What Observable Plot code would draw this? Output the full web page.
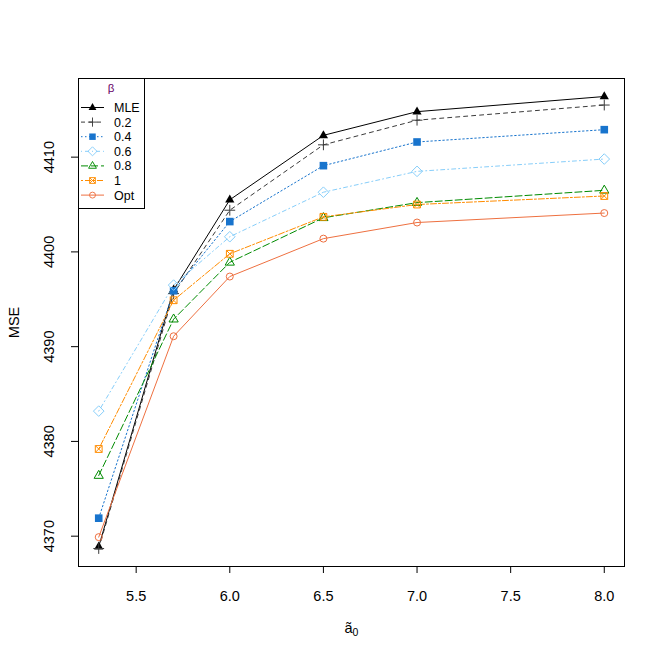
<!DOCTYPE html>
<html>
<head>
<meta charset="utf-8">
<script src="https://cdn.jsdelivr.net/npm/d3@7"></script>
<script src="https://cdn.jsdelivr.net/npm/@observablehq/plot@0.6"></script>
<style>
  html, body { margin: 0; padding: 0; background: #fff; }
  #wrap { position: relative; width: 664px; height: 664px; }
  #wrap svg { position: absolute; left: 0; top: 0; }
</style>
</head>
<body>
<div id="wrap"></div>
<script>
// ---- data ----
const a0 = [5.3, 5.7, 6.0, 6.5, 7.0, 8.0];
const mseMLE = [4368.9, 4396.0, 4405.5, 4412.3, 4414.8, 4416.4];
const mse02  = [4368.7, 4395.6, 4404.4, 4411.3, 4413.9, 4415.5];
const mse04  = [4371.9, 4395.9, 4403.2, 4409.1, 4411.6, 4412.9];
const mse06  = [4383.2, 4396.5, 4401.6, 4406.3, 4408.5, 4409.8];
const mse08  = [4376.4, 4392.9, 4398.9, 4403.6, 4405.2, 4406.5];
const mse1   = [4379.2, 4394.9, 4399.8, 4403.7, 4405.0, 4405.9];
const mseOpt = [4369.9, 4391.1, 4397.4, 4401.4, 4403.1, 4404.1];
const seriesNames = ["MLE", "0.2", "0.4", "0.6", "0.8", "1", "Opt"];
const xTicks = [5.5, 6.0, 6.5, 7.0, 7.5, 8.0];
const yTicks = [4370, 4380, 4390, 4400, 4410];

// ---- symbols (R pch look-alikes) ----
const symTriangle = {draw(c) { c.moveTo(0, -5.2); c.lineTo(4.6, 2.8); c.lineTo(-4.6, 2.8); c.closePath(); }};
const symPlus = {draw(c) { const h = 5.4; c.moveTo(-h, 0); c.lineTo(h, 0); c.moveTo(0, -h); c.lineTo(0, h); }};
const symSquare = {draw(c) { const h = 3.8; c.rect(-h, -h, 2 * h, 2 * h); }};
const symDiamond = {draw(c) { const h = 5.3; c.moveTo(0, -h); c.lineTo(h, 0); c.lineTo(0, h); c.lineTo(-h, 0); c.closePath(); }};
const symSquareX = {draw(c) { const h = 3.4; c.rect(-h, -h, 2 * h, 2 * h); c.moveTo(-h, -h); c.lineTo(h, h); c.moveTo(h, -h); c.lineTo(-h, h); }};
const symCircle = {draw(c) { c.moveTo(3.5, 0); c.arc(0, 0, 3.5, 0, 2 * Math.PI); }};

const styles = [
  {name: seriesNames[0], values: mseMLE, color: "#000000", dash: null,      symbol: symTriangle, filled: true},
  {name: seriesNames[1], values: mse02,  color: "#3a3a3a", dash: "4,4",     symbol: symPlus,     filled: false},
  {name: seriesNames[2], values: mse04,  color: "#1874CD", dash: "1.5,2.5", symbol: symSquare,   filled: true},
  {name: seriesNames[3], values: mse06,  color: "#87CEFA", dash: "1,3,4,3", symbol: symDiamond,  filled: false},
  {name: seriesNames[4], values: mse08,  color: "#008B00", dash: "7,3",     symbol: symTriangle, filled: false},
  {name: seriesNames[5], values: mse1,   color: "#FF8C00", dash: "2,2,6,2", symbol: symSquareX,  filled: false},
  {name: seriesNames[6], values: mseOpt, color: "#EE7040", dash: null,      symbol: symCircle,   filled: false}
];

const marks = [];
for (const s of styles) {
  const data = a0.map((x, i) => ({x, y: s.values[i]}));
  marks.push(Plot.line(data, {x: "x", y: "y", stroke: s.color, strokeWidth: 1, strokeDasharray: s.dash || undefined}));
}
for (const s of styles) {
  const data = a0.map((x, i) => ({x, y: s.values[i]}));
  marks.push(Plot.dot(data, {
    x: "x", y: "y", symbol: s.symbol,
    fill: s.filled ? s.color : "none",
    stroke: s.filled ? "none" : s.color,
    strokeWidth: 1
  }));
}

const chart = Plot.plot({
  width: 664,
  height: 664,
  marginLeft: 78,
  marginRight: 40,
  marginTop: 78,
  marginBottom: 98,
  style: {fontFamily: "Liberation Sans, Arial, sans-serif", fontSize: "14.5px", background: "white", color: "black"},
  x: {domain: [5.192, 8.108]},
  y: {domain: [4366.8, 4418.3]},
  marks: [
    Plot.axisX(xTicks, {tickSize: 7, tickPadding: 17, tickFormat: d3.format(".1f"), label: null, fontSize: 14.5}),
    Plot.axisY(yTicks, {tickSize: 7, tickFormat: () => "", label: null}),
    Plot.text(yTicks, {y: d => d, text: d => String(d), frameAnchor: "left", dx: -29.5, rotate: -90, fontSize: 14.5, textAnchor: "middle"}),
    Plot.text(["MSE"], {frameAnchor: "left", dx: -64, rotate: -90, fontSize: 14.5, textAnchor: "middle"}),
    Plot.text(["ã0"], {frameAnchor: "bottom", dy: 66, fontSize: 14.5, className: "xlab"}),
    ...marks,
    Plot.frame({stroke: "black", strokeWidth: 1})
  ]
});
document.getElementById("wrap").appendChild(chart);

// subscript for the x label
d3.select(chart).selectAll("g.xlab text").each(function() {
  const t = d3.select(this);
  t.text(null);
  t.append("tspan").text("ã");
  t.append("tspan").attr("dy", "0.3em").attr("font-size", "10.5px").text("0");
});

// ---- legend overlay (top-left inside plot frame) ----
const leg = d3.select("#wrap").append("svg")
  .attr("width", 664).attr("height", 664)
  .style("pointer-events", "none")
  .style("font-family", "Liberation Sans, Arial, sans-serif");
leg.append("rect").attr("x", 78.5).attr("y", 78.5).attr("width", 66).attr("height", 130)
  .attr("fill", "white").attr("stroke", "black").attr("stroke-width", 1);
leg.append("text").attr("x", 111).attr("y", 92).attr("text-anchor", "middle")
  .attr("font-size", 11.5).attr("fill", "#660066").text("β");
styles.forEach((s, i) => {
  const y = 107.5 + i * 14.6;
  leg.append("line").attr("x1", 81).attr("x2", 104).attr("y1", y).attr("y2", y)
    .attr("stroke", s.color).attr("stroke-width", 1).attr("stroke-dasharray", s.dash);
  leg.append("path").attr("transform", `translate(92.5,${y}) scale(0.85)`)
    .attr("d", d3.symbol(s.symbol)())
    .attr("fill", s.filled ? s.color : "none")
    .attr("stroke", s.filled ? "none" : s.color)
    .attr("stroke-width", 1.1);
  leg.append("text").attr("x", 114).attr("y", y + 4.5).attr("font-size", 12.5).attr("fill", "black").text(s.name);
});
</script>
</body>
</html>
